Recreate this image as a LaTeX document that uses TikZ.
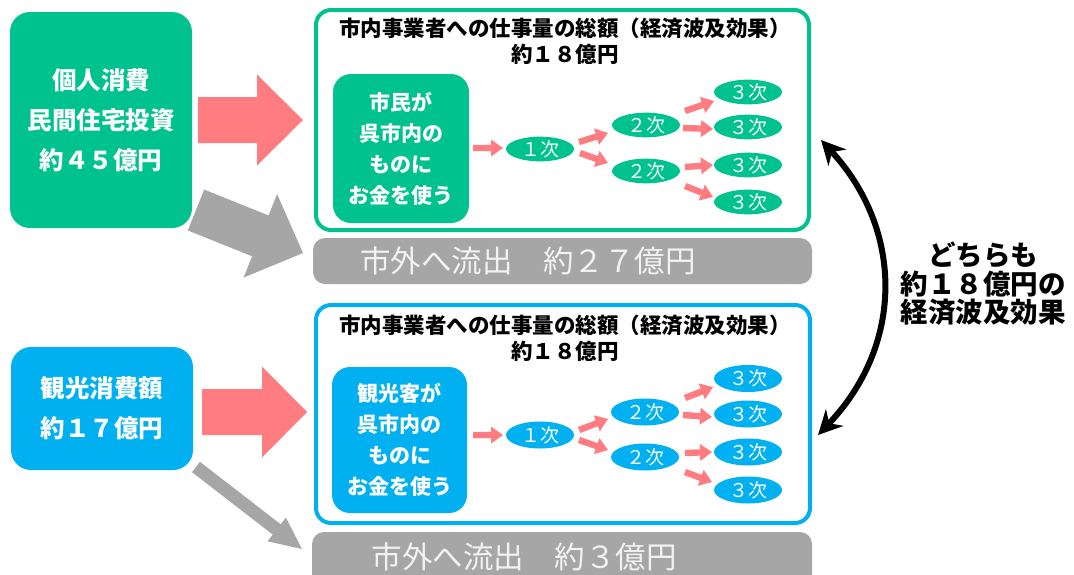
\documentclass[tikz,border=0pt]{standalone}
\usepackage{fontspec}
\setmainfont{Noto Sans CJK JP}
\usetikzlibrary{calc,arrows.meta,shapes.geometric}
\definecolor{mgreen}{RGB}{0,194,143}
\definecolor{mblue}{RGB}{0,176,240}
\definecolor{mpink}{RGB}{255,124,128}
\definecolor{mgray}{RGB}{166,166,166}
\definecolor{mgtext}{RGB}{242,242,242}
% #1 colour, #2 start, #3 tip, #4 half shaft, #5 half head, #6 head length
\newcommand\blockarr[6]{%
  \coordinate (bA) at #2; \coordinate (bB) at #3;
  \coordinate (bH) at ($(bB)!#6!(bA)$);
  \fill[#1] ($(bA)!#4!90:(bB)$) -- ($(bH)!#4!-90:(bA)$) -- ($(bH)!#5!-90:(bA)$)
    -- (bB) -- ($(bH)!#5!90:(bA)$) -- ($(bH)!#4!90:(bA)$) -- ($(bA)!#4!-90:(bB)$) -- cycle;
}
\begin{document}
\begin{tikzpicture}[x=1pt,y=-1pt,
  srcbox/.style={rectangle, rounded corners=20pt, minimum width=182pt, text=white, align=center, inner sep=0pt, font=\fontsize{24.5}{40}\selectfont\bfseries},
  frm/.style={rectangle, line width=4pt, rounded corners=15pt, inner sep=0pt},
  ttl/.style={align=center, inner sep=0pt, font=\fontsize{21.5}{25.5}\selectfont\bfseries},
  inbox/.style={rectangle, rounded corners=18pt, text=white, align=center, inner sep=0pt, font=\fontsize{21}{31}\selectfont\bfseries},
  ell/.style={ellipse, minimum width=68pt, inner sep=0pt, text=white, font=\fontsize{19}{19}\selectfont},
  outbox/.style={rectangle, fill=mgray, rounded corners=12pt, inner sep=0pt},
  outtext/.style={anchor=west, inner sep=0pt, text=mgtext, font=\fontsize{30.5}{30.5}\selectfont},
  sideline/.style={line width=6pt, {Stealth[length=24pt,width=24pt]}-{Stealth[length=24pt,width=24pt]}},
]
\useasboundingbox (0,0) rectangle (1074,574);
\fill[white] (0,0) rectangle (1074,574);

% source boxes
\node[srcbox, fill=mgreen, minimum height=216pt] (src1) at (101,120) {個人消費\\民間住宅投資\\約４５億円};
\node[srcbox, fill=mblue, minimum height=123pt] (src2) at (102,408.5) {観光消費額\\約１７億円};

% frames
\node[frm, draw=mgreen, minimum width=493pt, minimum height=220pt] (f1) at (562.5,120) {};
\node[frm, draw=mblue, minimum width=494pt, minimum height=218pt] (f2) at (563,414) {};

\node[ttl] (t1) at (565,41) {市内事業者への仕事量の総額（経済波及効果）\\約１８億円};
\node[ttl] (t2) at (565,338) {市内事業者への仕事量の総額（経済波及効果）\\約１８億円};

% inner boxes
\node[inbox, fill=mgreen, minimum width=136pt, minimum height=149pt] (i1) at (401,148.5) {市民が\\呉市内の\\ものに\\お金を使う};
\node[inbox, fill=mblue, minimum width=135pt, minimum height=146pt] (i2) at (399.5,440) {観光客が\\呉市内の\\ものに\\お金を使う};

% ellipses top
\node[ell, fill=mgreen, minimum height=24pt] (e1) at (540,149) {１次};
\node[ell, fill=mgreen, minimum height=24pt] (e2a) at (646,125) {２次};
\node[ell, fill=mgreen, minimum height=24pt] (e2b) at (646,171) {２次};
\node[ell, fill=mgreen, minimum height=24pt] (e3a) at (748,92) {３次};
\node[ell, fill=mgreen, minimum height=24pt] (e3b) at (748,127) {３次};
\node[ell, fill=mgreen, minimum height=24pt] (e3c) at (748,165) {３次};
\node[ell, fill=mgreen, minimum height=24pt] (e3d) at (748,202) {３次};
% ellipses bottom
\node[ell, fill=mblue, minimum height=27pt] (g1) at (540,435) {１次};
\node[ell, fill=mblue, minimum height=27pt] (g2a) at (645,412) {２次};
\node[ell, fill=mblue, minimum height=27pt] (g2b) at (645,457) {２次};
\node[ell, fill=mblue, minimum height=27pt] (g3a) at (748,378.5) {３次};
\node[ell, fill=mblue, minimum height=27pt] (g3b) at (748,414) {３次};
\node[ell, fill=mblue, minimum height=27pt] (g3c) at (748,452) {３次};
\node[ell, fill=mblue, minimum height=27pt] (g3d) at (748,490) {３次};

% outflow boxes
\node[outbox, minimum width=499pt, minimum height=46pt] (o1) at (562.5,261) {};
\node[outtext] (o1t) at (360,261) {市外へ流出　約２７億円};
\node[outbox, minimum width=500pt, minimum height=56pt] (o2) at (562,560) {};
\node[outtext] (o2t) at (371.5,557) {市外へ流出　約３億円};

% block arrows
\blockarr{mpink}{(198,120)}{(303,120)}{23pt}{45.5pt}{46pt}
\blockarr{mgray}{(196,210)}{(303,253)}{22pt}{45pt}{46pt}
\blockarr{mpink}{(202,412)}{(307,412)}{23pt}{45.5pt}{45pt}
\blockarr{mgray}{(196,467)}{(302,549)}{6.5pt}{15pt}{32pt}

% small arrows top
\blockarr{mpink}{(473,148)}{(503,148)}{3.2pt}{8.5pt}{12pt}
\blockarr{mpink}{(579,142)}{(608,133)}{3.2pt}{8.5pt}{12pt}
\blockarr{mpink}{(580,153)}{(608,163)}{3.2pt}{8.5pt}{12pt}
\blockarr{mpink}{(685,111)}{(714,101)}{3.2pt}{8.5pt}{12pt}
\blockarr{mpink}{(683,128)}{(713,129)}{3.2pt}{8.5pt}{12pt}
\blockarr{mpink}{(685,167)}{(713,165)}{3.2pt}{8.5pt}{12pt}
\blockarr{mpink}{(685,186)}{(713,197)}{3.2pt}{8.5pt}{12pt}
% small arrows bottom
\blockarr{mpink}{(473,435)}{(503,435)}{3.2pt}{8.5pt}{12pt}
\blockarr{mpink}{(579,430)}{(608,419)}{3.2pt}{8.5pt}{12pt}
\blockarr{mpink}{(579,440)}{(608,450)}{3.2pt}{8.5pt}{12pt}
\blockarr{mpink}{(685,398)}{(713,387)}{3.2pt}{8.5pt}{12pt}
\blockarr{mpink}{(683,415)}{(712,417)}{3.2pt}{8.5pt}{12pt}
\blockarr{mpink}{(685,453)}{(712,452)}{3.2pt}{8.5pt}{12pt}
\blockarr{mpink}{(685,472)}{(712,482)}{3.2pt}{8.5pt}{12pt}

% double arrow and label
\coordinate (da1) at (821,140);
\coordinate (da2) at (818,435);
\draw[sideline] (da1) .. controls (904,230) and (904,345) .. (da2);
\node[align=center, inner sep=0pt, font=\fontsize{27.5}{28.5}\selectfont\bfseries] (rt) at (983,284) {どちらも\\約１８億円の\\経済波及効果};
\end{tikzpicture}
\end{document}
